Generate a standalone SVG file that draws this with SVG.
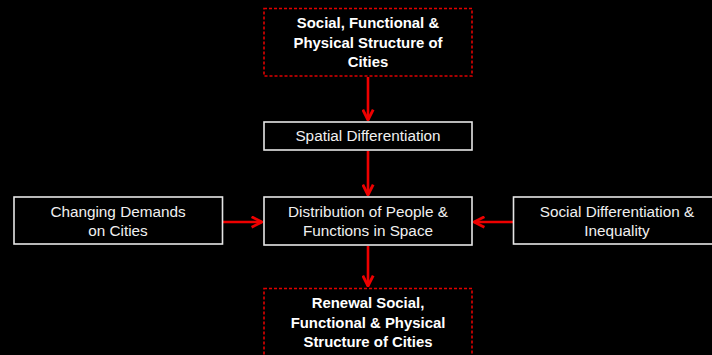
<svg xmlns="http://www.w3.org/2000/svg" width="712" height="355" viewBox="0 0 712 355">
<defs>
<style>
.bg{fill:#000}
.w{fill:#000;stroke:#e6e6e6;stroke-width:1.6}
.r{fill:#000;stroke:#e00000;stroke-width:1.6;stroke-dasharray:3,2}
.t{font-family:"Liberation Sans",Arial,sans-serif;font-size:15.3px;fill:#f0f0f0;text-anchor:middle}
.b{font-family:"Liberation Sans",Arial,sans-serif;font-size:14.9px;font-weight:bold;fill:#fff;text-anchor:middle}
.c{stroke:#ee0000;stroke-width:2.6;fill:none}
</style>
<marker id="ah" viewBox="0 0 10 10" refX="9" refY="5" markerWidth="5" markerHeight="5" orient="auto" markerUnits="strokeWidth">
<path d="M1,1 L9,5 L1,9" fill="none" stroke="#ee0000" stroke-width="2.2"/>
</marker>
</defs>
<rect class="bg" x="0" y="0" width="712" height="355"/>
<g id="connectors">
<line class="c" x1="368" y1="77" x2="368" y2="120" marker-end="url(#ah)"/>
<line class="c" x1="368" y1="151" x2="368" y2="195" marker-end="url(#ah)"/>
<line class="c" x1="368" y1="246" x2="368" y2="286" marker-end="url(#ah)"/>
<line class="c" x1="223" y1="222" x2="262" y2="222" marker-end="url(#ah)"/>
<line class="c" x1="513" y1="222" x2="474" y2="222" marker-end="url(#ah)"/>
</g>
<g id="top">
<rect class="r" x="264" y="8.5" width="208" height="67.5"/>
<text class="b" x="368" y="28">Social, Functional &amp;</text>
<text class="b" x="368" y="48">Physical Structure of</text>
<text class="b" x="368" y="67">Cities</text>
</g>
<g id="spatial">
<rect class="w" x="264" y="122" width="208" height="28"/>
<text class="t" x="368" y="141">Spatial Differentiation</text>
</g>
<g id="distribution">
<rect class="w" x="264" y="197" width="208" height="48"/>
<text class="t" x="368" y="216.5">Distribution of People &amp;</text>
<text class="t" x="368" y="235.5">Functions in Space</text>
</g>
<g id="changing">
<rect class="w" x="14" y="197" width="208.5" height="47"/>
<text class="t" x="118" y="217">Changing Demands</text>
<text class="t" x="118" y="235.5">on Cities</text>
</g>
<g id="social">
<rect class="w" x="513.5" y="197" width="208" height="47"/>
<text class="t" x="617" y="217">Social Differentiation &amp;</text>
<text class="t" x="617" y="235.5">Inequality</text>
</g>
<g id="renewal">
<rect class="r" x="264" y="288.5" width="208" height="80"/>
<text class="b" x="368" y="308">Renewal Social,</text>
<text class="b" x="368" y="328">Functional &amp; Physical</text>
<text class="b" x="368" y="347">Structure of Cities</text>
</g>
</svg>
